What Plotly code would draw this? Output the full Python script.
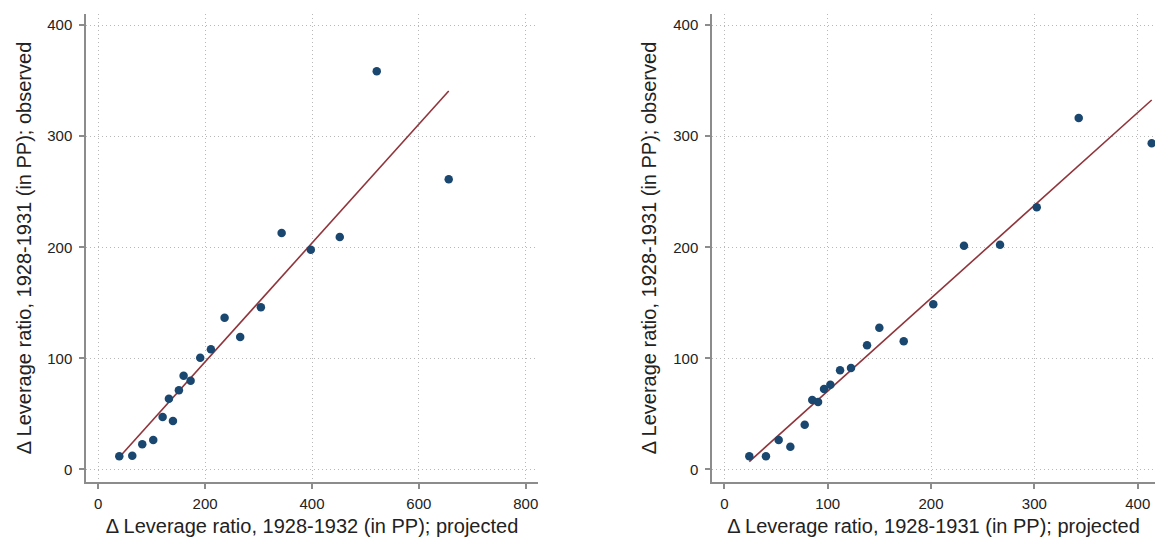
import plotly.graph_objects as go

# ---- Data ----
left_projected = [39.3, 63.6, 82.3, 102.9, 120.4, 139.7, 132.2, 150.9, 159.7, 172.8,
                  190.8, 210.8, 236.4, 265.6, 304.3, 343.2, 397.8, 452.0, 521.2, 655.9]
left_observed = [11.9, 12.4, 22.7, 26.6, 47.3, 43.7, 63.7, 71.3, 84.4, 79.9,
                 100.6, 108.2, 136.6, 119.3, 146.0, 212.8, 197.8, 209.3, 358.4, 261.2]
left_fit_slope = 0.5346
left_fit_intercept = -10.0

right_projected = [24.2, 40.3, 52.6, 63.9, 77.8, 85.1, 90.7, 96.5, 102.6, 112.0,
                   122.6, 138.1, 150.0, 173.6, 202.2, 231.9, 266.8, 302.3, 342.9, 413.5]
right_observed = [11.9, 11.9, 26.6, 20.5, 40.3, 62.6, 60.8, 72.5, 76.3, 89.3,
                  91.4, 111.8, 127.6, 115.4, 148.7, 201.4, 202.3, 236.0, 316.4, 293.6]
right_fit_slope = 0.836
right_fit_intercept = -13.1

left_xticks = [0, 200, 400, 600, 800]
right_xticks = [0, 100, 200, 300, 400]
yticks = [0, 100, 200, 300, 400]

left_xtitle = "Δ Leverage ratio, 1928-1932 (in PP); projected"
right_xtitle = "Δ Leverage ratio, 1928-1931 (in PP); projected"
ytitle = "Δ Leverage ratio, 1928-1931 (in PP); observed"

# ---- Styles ----
MARKER = "#1a476f"
LINE = "#90353b"
GRID = "#b8b8b8"
AXIS = "#8c8c8c"
FONT = "Liberation Sans, Arial, Helvetica, sans-serif"

W, H = 1155, 541

fig = go.Figure()

def add_panel(xs, ys, slope, intercept, xa, ya):
    xmin, xmax = min(xs), max(xs)
    fx = [xmin, xmax]
    fy = [intercept + slope * v for v in fx]
    fig.add_trace(go.Scatter(x=fx, y=fy, mode="lines",
                             line=dict(color=LINE, width=1.6),
                             xaxis=xa, yaxis=ya, showlegend=False, hoverinfo="skip"))
    fig.add_trace(go.Scatter(x=xs, y=ys, mode="markers",
                             marker=dict(color=MARKER, size=8.5, line=dict(width=0)),
                             xaxis=xa, yaxis=ya, showlegend=False))

add_panel(left_projected, left_observed, left_fit_slope, left_fit_intercept, "x", "y")
add_panel(right_projected, right_observed, right_fit_slope, right_fit_intercept, "x2", "y2")

def px(v):
    return v / W

def py(v):
    return 1 - v / H

common_axis = dict(
    showline=True, linecolor=AXIS, linewidth=1.5,
    ticks="outside", ticklen=5, tickcolor=AXIS, tickwidth=1.5,
    showgrid=True, gridcolor=GRID, griddash="1px,3px", gridwidth=1,
    zeroline=False, tickfont=dict(family=FONT, size=15, color="#222222"),
    fixedrange=True,
)

ydomain = [py(482), py(14)]
title_font = dict(size=20, family=FONT, color="#222222")

fig.update_layout(
    width=W, height=H,
    margin=dict(l=0, r=0, t=0, b=0),
    paper_bgcolor="white", plot_bgcolor="white",
    font=dict(family=FONT, color="#222222"),
    xaxis=dict(common_axis, domain=[px(86), px(538)], range=[-23, 823],
               tickvals=left_xticks, anchor="y", ticklabelstandoff=2,
               title=dict(text=left_xtitle, font=title_font, standoff=8)),
    yaxis=dict(common_axis, domain=ydomain, range=[-11.3, 410],
               tickvals=yticks, anchor="x", ticklabelstandoff=4,
               title=dict(text=ytitle, font=title_font, standoff=10)),
    xaxis2=dict(common_axis, domain=[px(712), 1.0], range=[-11.9, 416.7],
                tickvals=right_xticks, anchor="y2", ticklabelstandoff=2,
                title=dict(text=right_xtitle, font=title_font, standoff=8)),
    yaxis2=dict(common_axis, domain=ydomain, range=[-11.3, 410],
                tickvals=yticks, anchor="x2", ticklabelstandoff=4,
                title=dict(text=ytitle, font=title_font, standoff=11)),
)

fig.write_html("out.html",
               config={"displayModeBar": False},
               post_script="document.body.style.margin='0';document.body.style.overflow='hidden';")
